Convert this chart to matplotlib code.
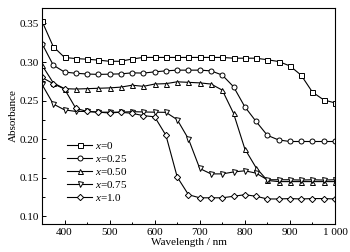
import matplotlib
matplotlib.use("Agg")
import matplotlib.pyplot as plt
from matplotlib.ticker import MultipleLocator, FixedLocator, FixedFormatter

plt.rcParams['font.family'] = ['Liberation Serif', 'DejaVu Serif']
plt.rcParams['mathtext.fontset'] = 'custom'
plt.rcParams['mathtext.it'] = 'Liberation Serif:italic'
plt.rcParams['mathtext.rm'] = 'Liberation Serif'

wl = [350, 375, 400, 425, 450, 475, 500, 525, 550, 575, 600, 625, 650, 675,
      700, 725, 750, 775, 800, 825, 850, 875, 900, 925, 950, 975, 1000]

a_x0 = [0.353, 0.320, 0.306, 0.3045, 0.3037, 0.3025, 0.301, 0.301, 0.304, 0.306,
        0.306, 0.306, 0.306, 0.306, 0.306, 0.306, 0.306, 0.305, 0.305, 0.305,
        0.303, 0.3007, 0.295, 0.283, 0.261, 0.251, 0.247]
a_x025 = [0.324, 0.296, 0.287, 0.2855, 0.2845, 0.284, 0.2843, 0.2847, 0.286, 0.2857,
          0.2873, 0.2886, 0.2895, 0.2895, 0.2895, 0.2886, 0.2831, 0.268, 0.242, 0.223,
          0.205, 0.199, 0.197, 0.197, 0.197, 0.197, 0.197]
a_x050 = [0.296, 0.273, 0.2655, 0.265, 0.2655, 0.266, 0.2665, 0.2675, 0.270, 0.2685,
          0.2715, 0.272, 0.2744, 0.2737, 0.273, 0.2715, 0.2636, 0.2335, 0.1875, 0.163,
          0.1465, 0.145, 0.145, 0.145, 0.145, 0.145, 0.145]
a_x075 = [0.271, 0.2456, 0.238, 0.236, 0.236, 0.235, 0.235, 0.235, 0.2357, 0.2353,
          0.235, 0.2348, 0.2253, 0.2003, 0.162, 0.155, 0.155, 0.1575, 0.159, 0.156,
          0.1474, 0.1474, 0.1474, 0.147, 0.1474, 0.147, 0.1474]
a_x100 = [0.280, 0.272, 0.265, 0.240, 0.236, 0.235, 0.234, 0.235, 0.2335, 0.2305,
          0.229, 0.2050, 0.151, 0.128, 0.124, 0.124, 0.124, 0.126, 0.128, 0.126,
          0.1225, 0.1225, 0.123, 0.1225, 0.123, 0.123, 0.1225]

series = [(a_x0, 's', r'$x$=0'),
          (a_x025, 'o', r'$x$=0.25'),
          (a_x050, '^', r'$x$=0.50'),
          (a_x075, 'v', r'$x$=0.75'),
          (a_x100, 'D', r'$x$=1.0')]

xticks = [400, 500, 600, 700, 800, 900, 1000]
xticklabels = ['400', '500', '600', '700', '800', '900', '1 000']

fig = plt.figure(figsize=(3.5, 2.52), dpi=100)
ax = fig.add_axes([0.12, 0.111, 0.837, 0.857])

for ys, m, lab in series:
    ms = 3.2 if m == 'D' else 3.6
    ax.plot(wl, ys, color='k', lw=0.8, marker=m, ms=ms, mfc='white',
            mec='k', mew=0.7, label=lab)

ax.set_xlim(350, 1000)
ax.set_ylim(0.09, 0.37)
ax.xaxis.set_major_locator(FixedLocator(xticks))
ax.xaxis.set_major_formatter(FixedFormatter(xticklabels))
ax.xaxis.set_minor_locator(MultipleLocator(50))
ax.yaxis.set_major_locator(MultipleLocator(0.05))
ax.yaxis.set_minor_locator(MultipleLocator(0.025))
ax.yaxis.set_major_formatter(plt.FormatStrFormatter('%.2f'))
ax.tick_params(which='both', direction='in', labelsize=8, width=0.7, pad=2.5)
ax.tick_params(which='major', length=3)
ax.tick_params(which='minor', length=1.8)
for s in ax.spines.values():
    s.set_linewidth(0.8)

ax.set_xlabel('Wavelength / nm', fontsize=8, labelpad=1)
ax.set_ylabel('Absorbance', fontsize=8, labelpad=1)

ax.legend(loc='lower left', bbox_to_anchor=(0.06, 0.06), frameon=False,
          fontsize=8, handlelength=2.2, handletextpad=0.3, labelspacing=0.18,
          borderpad=0.2)

fig.savefig('out.png', dpi=100)
